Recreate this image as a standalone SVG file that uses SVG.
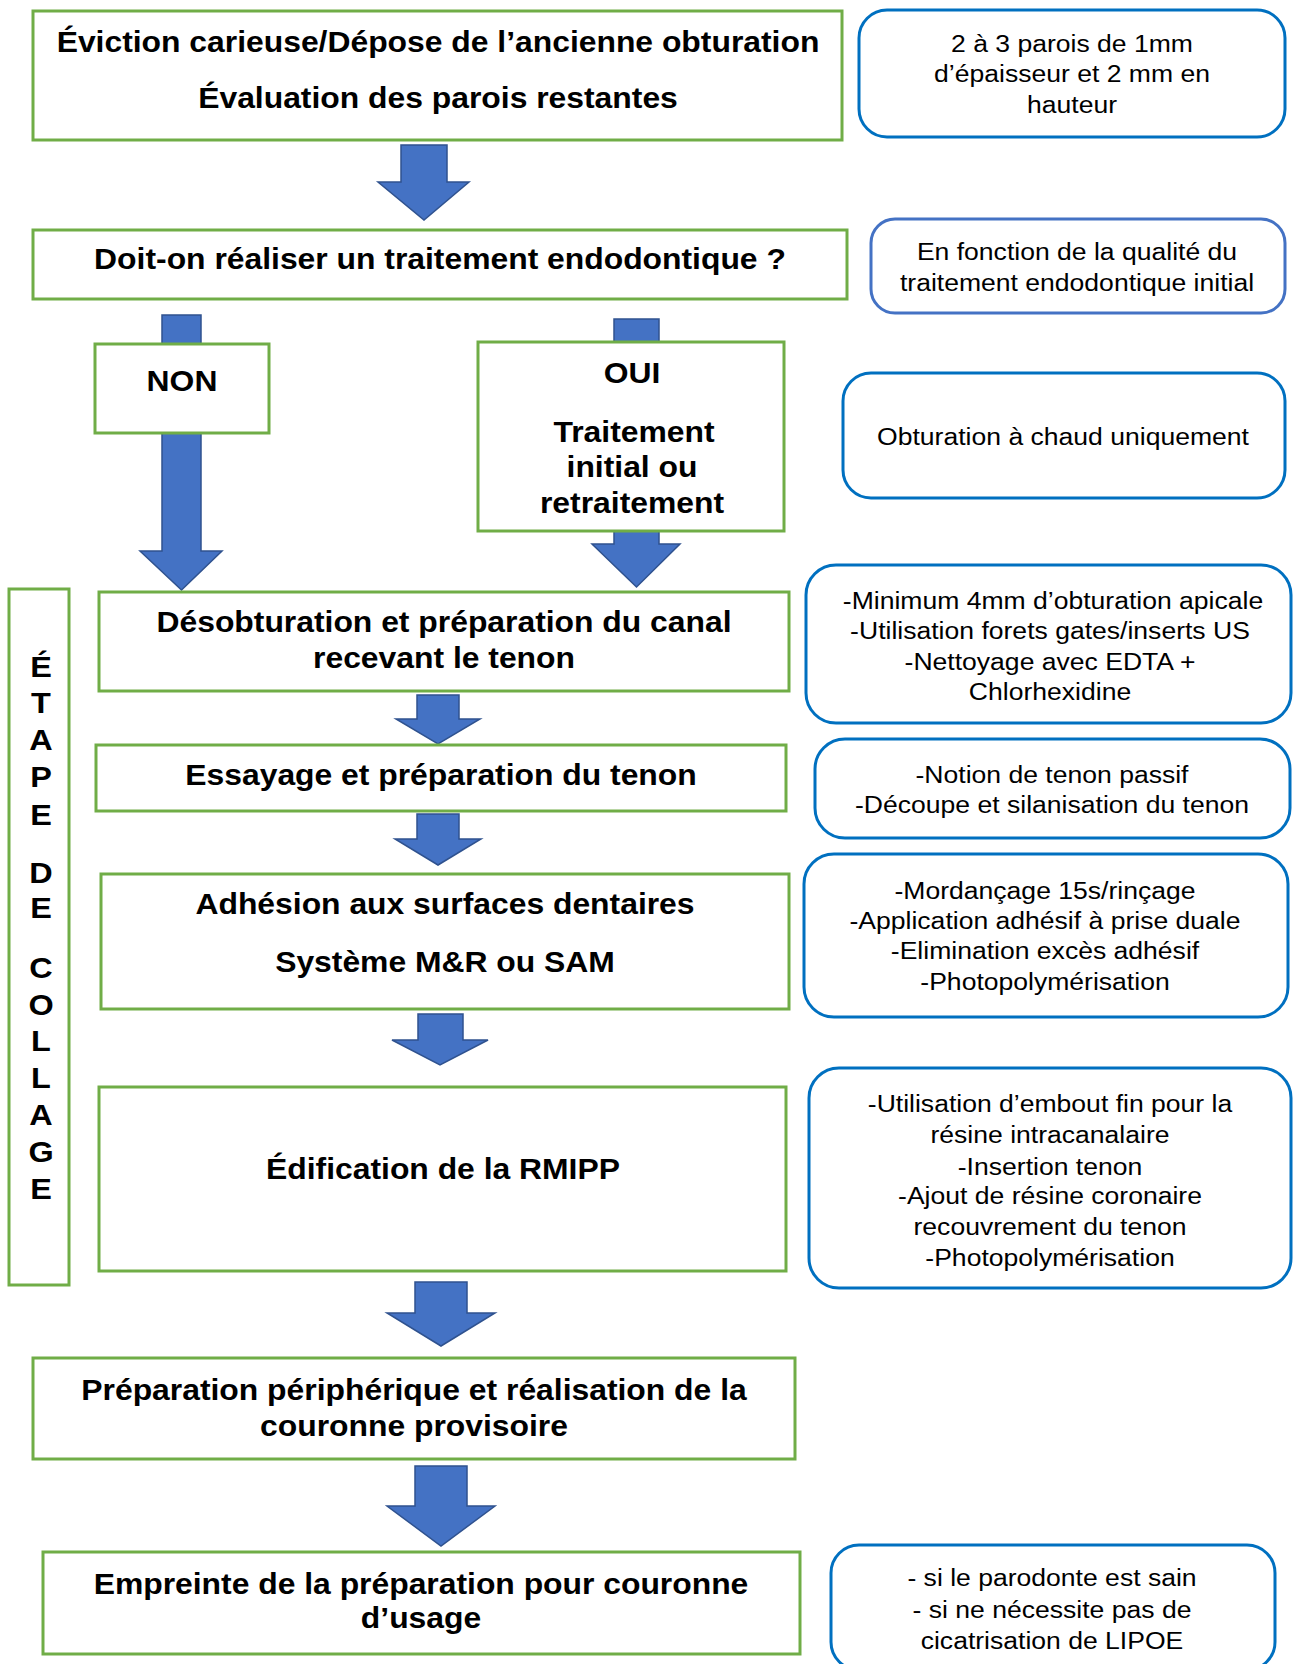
<svg xmlns="http://www.w3.org/2000/svg" width="1293" height="1664" viewBox="0 0 1293 1664">
<style>
.g{fill:#fff;stroke:#70AD47;stroke-width:3}
.n{fill:#fff;stroke:#0070C0;stroke-width:3}
.n2{fill:#fff;stroke:#4472C4;stroke-width:3}
.a{fill:#4472C4;stroke:#2F528F;stroke-width:1.5;stroke-linejoin:miter}
.b{font-family:"Liberation Sans",Arial,sans-serif;font-weight:bold;font-size:29.5px;fill:#000;text-anchor:middle}
.r{font-family:"Liberation Sans",Arial,sans-serif;font-size:23.5px;fill:#000;text-anchor:middle}
.v{font-family:"Liberation Sans",Arial,sans-serif;font-weight:bold;font-size:30px;fill:#000;text-anchor:middle}
</style>
<rect width="1293" height="1664" fill="#fff"/>
<g id="connectors">
<path class="a" d="M401,145 H447 V182 H469 L424,220 L378,182 H401 Z"/>
<path class="a" d="M162,315 H201 V551 H222 L181.5,590 L140,551 H162 Z"/>
<path class="a" d="M614,319 H659 V544 H680 L636.5,587 L592,544 H614 Z"/>
<path class="a" d="M417,695 H459 V719 H480 L438,744 L396,719 H417 Z"/>
<path class="a" d="M417,814 H459 V839 H481 L438,865 L395,839 H417 Z"/>
<path class="a" d="M418,1014 H463 V1040 H488 L440,1065 L392,1040 H418 Z"/>
<path class="a" d="M415,1282 H467 V1313 H495 L441,1346 L387,1313 H415 Z"/>
<path class="a" d="M415,1466 H467 V1506 H495 L441,1546 L387,1506 H415 Z"/>
</g>
<g id="n-eviction">
<rect class="g" x="33" y="11" width="809" height="129"/>
<text class="b" transform="translate(438 52) scale(1.08 1)">Éviction carieuse/Dépose de l’ancienne obturation</text>
<text class="b" transform="translate(438 108) scale(1.08 1)">Évaluation des parois restantes</text>
</g>
<g id="n-doit">
<rect class="g" x="33" y="230" width="814" height="69"/>
<text class="b" transform="translate(440 269) scale(1.08 1)">Doit-on réaliser un traitement endodontique ?</text>
</g>
<g id="n-non">
<rect class="g" x="95" y="344" width="174" height="89"/>
<text class="b" transform="translate(182 391) scale(1.08 1)">NON</text>
</g>
<g id="n-oui">
<rect class="g" x="478" y="342" width="306" height="189"/>
<text class="b" transform="translate(632 383) scale(1.08 1)">OUI</text>
<text class="b" transform="translate(634 442) scale(1.08 1)">Traitement</text>
<text class="b" transform="translate(632 477) scale(1.08 1)">initial ou</text>
<text class="b" transform="translate(632 513) scale(1.08 1)">retraitement</text>
</g>
<g id="n-desob">
<rect class="g" x="99" y="592" width="690" height="99"/>
<text class="b" transform="translate(444 632) scale(1.08 1)">Désobturation et préparation du canal</text>
<text class="b" transform="translate(444 668) scale(1.08 1)">recevant le tenon</text>
</g>
<g id="n-essayage">
<rect class="g" x="96" y="745" width="690" height="66"/>
<text class="b" transform="translate(441 785) scale(1.08 1)">Essayage et préparation du tenon</text>
</g>
<g id="n-adhesion">
<rect class="g" x="101" y="874" width="688" height="135"/>
<text class="b" transform="translate(445 914) scale(1.08 1)">Adhésion aux surfaces dentaires</text>
<text class="b" transform="translate(445 972) scale(1.08 1)">Système M&amp;R ou SAM</text>
</g>
<g id="n-edification">
<rect class="g" x="99" y="1087" width="687" height="184"/>
<text class="b" transform="translate(443 1179) scale(1.08 1)">Édification de la RMIPP</text>
</g>
<g id="n-preparation">
<rect class="g" x="33" y="1358" width="762" height="101"/>
<text class="b" transform="translate(414 1400) scale(1.08 1)">Préparation périphérique et réalisation de la</text>
<text class="b" transform="translate(414 1436) scale(1.08 1)">couronne provisoire</text>
</g>
<g id="n-empreinte">
<rect class="g" x="43" y="1552" width="757" height="102"/>
<text class="b" transform="translate(421 1594) scale(1.08 1)">Empreinte de la préparation pour couronne</text>
<text class="b" transform="translate(421 1628) scale(1.08 1)">d’usage</text>
</g>
<g id="n-etape">
<rect class="g" x="9" y="589" width="60" height="696"/>
<text class="v" transform="translate(41 677) scale(1.08 1)">É</text>
<text class="v" transform="translate(41 713) scale(1.08 1)">T</text>
<text class="v" transform="translate(41 750) scale(1.08 1)">A</text>
<text class="v" transform="translate(41 787) scale(1.08 1)">P</text>
<text class="v" transform="translate(41 825) scale(1.08 1)">E</text>
<text class="v" transform="translate(41 883) scale(1.08 1)">D</text>
<text class="v" transform="translate(41 918) scale(1.08 1)">E</text>
<text class="v" transform="translate(41 978) scale(1.08 1)">C</text>
<text class="v" transform="translate(41 1015) scale(1.08 1)">O</text>
<text class="v" transform="translate(41 1051) scale(1.08 1)">L</text>
<text class="v" transform="translate(41 1088) scale(1.08 1)">L</text>
<text class="v" transform="translate(41 1125) scale(1.08 1)">A</text>
<text class="v" transform="translate(41 1162) scale(1.08 1)">G</text>
<text class="v" transform="translate(41 1199) scale(1.08 1)">E</text>
</g>
<g id="note-parois">
<rect class="n" x="859" y="10" width="426" height="127" rx="28"/>
<text class="r" transform="translate(1072 52) scale(1.13 1)">2 à 3 parois de 1mm</text>
<text class="r" transform="translate(1072 82) scale(1.13 1)">d’épaisseur et 2 mm en</text>
<text class="r" transform="translate(1072 113) scale(1.13 1)">hauteur</text>
</g>
<g id="note-fonction">
<rect class="n2" x="871" y="219" width="414" height="94" rx="24"/>
<text class="r" transform="translate(1077 260) scale(1.13 1)">En fonction de la qualité du</text>
<text class="r" transform="translate(1077 291) scale(1.13 1)">traitement endodontique initial</text>
</g>
<g id="note-obturation">
<rect class="n" x="843" y="373" width="442" height="125" rx="28"/>
<text class="r" transform="translate(1063 445) scale(1.13 1)">Obturation à chaud uniquement</text>
</g>
<g id="note-minimum">
<rect class="n" x="806" y="565" width="485" height="158" rx="30"/>
<text class="r" transform="translate(1053 609) scale(1.13 1)">-Minimum 4mm d’obturation apicale</text>
<text class="r" transform="translate(1050 639) scale(1.13 1)">-Utilisation forets gates/inserts US</text>
<text class="r" transform="translate(1050 670) scale(1.13 1)">-Nettoyage avec EDTA +</text>
<text class="r" transform="translate(1050 700) scale(1.13 1)">Chlorhexidine</text>
</g>
<g id="note-notion">
<rect class="n" x="815" y="739" width="475" height="99" rx="30"/>
<text class="r" transform="translate(1052 783) scale(1.13 1)">-Notion de tenon passif</text>
<text class="r" transform="translate(1052 813) scale(1.13 1)">-Découpe et silanisation du tenon</text>
</g>
<g id="note-mordancage">
<rect class="n" x="804" y="854" width="484" height="163" rx="30"/>
<text class="r" transform="translate(1045 899) scale(1.13 1)">-Mordançage 15s/rinçage</text>
<text class="r" transform="translate(1045 929) scale(1.13 1)">-Application adhésif à prise duale</text>
<text class="r" transform="translate(1045 959) scale(1.13 1)">-Elimination excès adhésif</text>
<text class="r" transform="translate(1045 990) scale(1.13 1)">-Photopolymérisation</text>
</g>
<g id="note-embout">
<rect class="n" x="809" y="1068" width="482" height="220" rx="30"/>
<text class="r" transform="translate(1050 1112) scale(1.13 1)">-Utilisation d’embout fin pour la</text>
<text class="r" transform="translate(1050 1143) scale(1.13 1)">résine intracanalaire</text>
<text class="r" transform="translate(1050 1175) scale(1.13 1)">-Insertion tenon</text>
<text class="r" transform="translate(1050 1204) scale(1.13 1)">-Ajout de résine coronaire</text>
<text class="r" transform="translate(1050 1235) scale(1.13 1)">recouvrement du tenon</text>
<text class="r" transform="translate(1050 1266) scale(1.13 1)">-Photopolymérisation</text>
</g>
<g id="note-parodonte">
<rect class="n" x="831" y="1545" width="444" height="125" rx="28"/>
<text class="r" transform="translate(1052 1586) scale(1.13 1)">- si le parodonte est sain</text>
<text class="r" transform="translate(1052 1618) scale(1.13 1)">- si ne nécessite pas de</text>
<text class="r" transform="translate(1052 1649) scale(1.13 1)">cicatrisation de LIPOE</text>
</g>
</svg>
